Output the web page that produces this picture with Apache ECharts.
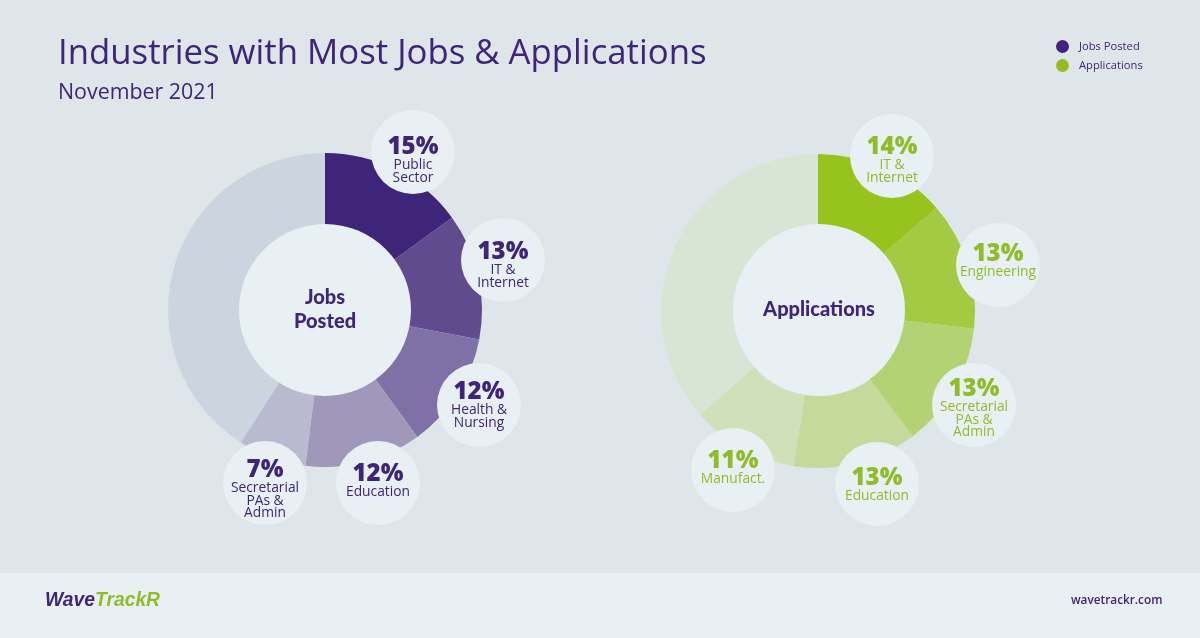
<!DOCTYPE html>
<html><head><meta charset="utf-8">
<style>html,body{margin:0;padding:0;background:#dfe6ea}#c{width:1200px;height:638px}</style>
<script src="https://cdn.jsdelivr.net/npm/echarts@6/dist/echarts.min.js"></script>
</head><body><div id="c"></div>
<script>
// data
const legendNames = ['Jobs Posted', 'Applications'];
const jobsNames = [['Public', 'Sector'], ['IT &', 'Internet'], ['Health &', 'Nursing'], ['Education'], ['Secretarial', 'PAs &', 'Admin'], []];
const jobsValues = [15, 13, 12, 12, 7, 41];
const appsNames = [['IT &', 'Internet'], ['Engineering'], ['Secretarial', 'PAs &', 'Admin'], ['Education'], ['Manufact.'], []];
const appsValues = [13.6, 13.2, 12.9, 12.8, 11, 36.5];
const centreJobs = 'Jobs\nPosted';
const centreApps = 'Applications';

// layout and style
const jobsColors = ['#3f2579', '#5f4b8e', '#7f71a6', '#9f98bb', '#b9bacf', '#ccd5df'];
const appsColors = ['#96c41d', '#a4ca44', '#b3d273', '#c4d99a', '#d0e0b8', '#d9e5d4'];
const jobsBubbles = [[413, 152], [503, 260], [479, 405], [378, 483], [265, 483]];
const appsBubbles = [[892, 156], [998, 265], [974, 405], [877, 484], [733, 470]];
const jobsTextShift = [-7, -10, -15, -11, -15];
const appsTextShift = [-11, -13, -18, -8, -11];
const PURPLE = '#3f2579', GREEN = '#8fbc2a', LIGHT = '#e9f0f3', BG = '#dfe6ea';
const D = 84;

function ring(values, names, colors, bubbles, shifts, centre, textColor) {
  return {
    type: 'pie', center: centre, radius: [85, 157], startAngle: 90, clockwise: true,
    avoidLabelOverlap: false, animation: false, silent: true, z: 2,
    emphasis: { disabled: true },
    label: { show: false }, labelLine: { show: false },
    labelLayout: p => {
      const b = bubbles[p.dataIndex];
      return b ? { x: b[0], y: b[1], align: 'center', verticalAlign: 'middle', hideOverlap: false, moveOverlap: null } : {};
    },
    data: values.map((v, i) => {
      const lines = names[i];
      const item = { value: v, name: lines.join(' ') || 'Other', itemStyle: { color: colors[i], borderWidth: 0 } };
      if (lines.length) {
        const pad = 32 + shifts[i];
        item.label = {
          show: true, position: 'inside', width: D, height: D - pad, padding: [pad, 0, 0, 0],
          backgroundColor: LIGHT, borderRadius: D / 2, align: 'center',
          formatter: '{p|' + Math.round(v) + '%}\n' + lines.map(s => '{n|' + s + '}').join('\n'),
          rich: {
            p: { fontFamily: 'Open Sans', fontWeight: 800, fontSize: 24, lineHeight: 24, color: textColor, align: 'center' },
            n: { fontFamily: 'Open Sans', fontSize: 13.8, lineHeight: 12.5, color: textColor, align: 'center' }
          }
        };
      }
      return item;
    })
  };
}
function hub(centre, name, text) {
  return {
    type: 'pie', center: centre, radius: [0, 86], animation: false, silent: true, z: 3,
    emphasis: { disabled: true }, labelLine: { show: false },
    label: {
      show: true, position: 'center', formatter: text, color: PURPLE,
      fontFamily: 'Lato', fontWeight: 900, fontSize: 20, lineHeight: 24
    },
    data: [{ value: 1, name: name, itemStyle: { color: LIGHT } }]
  };
}

const chart = echarts.init(document.getElementById('c'), null, { renderer: 'canvas' });
chart.setOption({
  backgroundColor: BG, animation: false,
  title: [
    { text: 'Industries with Most Jobs & Applications', subtext: 'November 2021', left: 58, top: 37, padding: 0, itemGap: 10,
      textStyle: { fontFamily: 'Open Sans', fontWeight: 400, fontSize: 34.75, color: PURPLE },
      subtextStyle: { fontFamily: 'Open Sans', fontSize: 21.4, color: PURPLE } },
    { text: '{a|Wave}{b|TrackR}', left: 45, top: 591, padding: 0,
      textStyle: { rich: {
        a: { fontFamily: 'Liberation Sans', fontStyle: 'italic', fontWeight: 'bold', fontSize: 19.3, color: PURPLE },
        b: { fontFamily: 'Liberation Sans', fontStyle: 'italic', fontWeight: 'bold', fontSize: 19.3, color: '#8fbc2a' } } } },
    { text: 'wavetrackr.com', left: 1071, top: 595, padding: 0,
      textStyle: { fontFamily: 'Open Sans', fontWeight: 600, fontSize: 11.8, color: PURPLE } }
  ],
  legend: {
    orient: 'vertical', left: 1056, top: 40, padding: 0, icon: 'circle', itemWidth: 13, itemHeight: 13, itemGap: 6, selectedMode: false,
    textStyle: { fontFamily: 'Open Sans', fontSize: 11.2, color: PURPLE, padding: [0, 0, 0, 5] },
    data: [{ name: legendNames[0], itemStyle: { color: PURPLE } }, { name: legendNames[1], itemStyle: { color: '#96bb22' } }]
  },
  graphic: [{ type: 'rect', z: 0, silent: true, shape: { x: 0, y: 573, width: 1200, height: 65 }, style: { fill: LIGHT } }],
  series: [
    ring(jobsValues, jobsNames, jobsColors, jobsBubbles, jobsTextShift, [325, 310], PURPLE),
    hub([325, 310], legendNames[0], centreJobs),
    ring(appsValues, appsNames, appsColors, appsBubbles, appsTextShift, [818, 311], GREEN),
    hub([819, 310], legendNames[1], centreApps)
  ]
});
</script></body></html>
